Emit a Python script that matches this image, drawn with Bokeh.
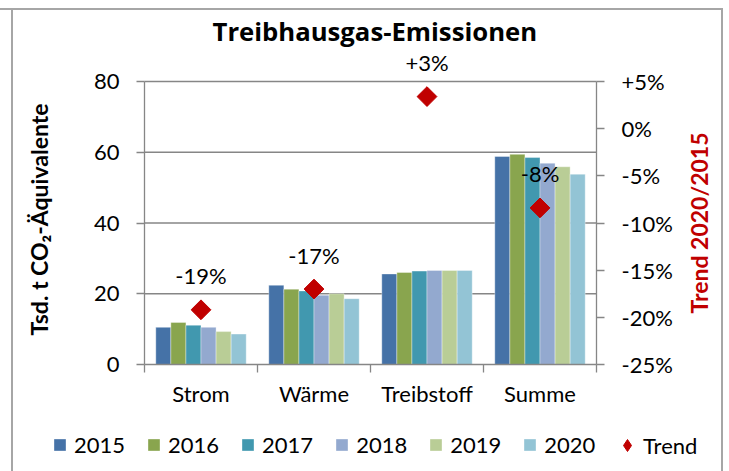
import math
from bokeh.plotting import figure
from bokeh.models import (ColumnDataSource, Range1d, LinearAxis, FixedTicker,
                          CustomJSTickFormatter, LabelSet, Label, Legend, LegendItem)
from bokeh.core.properties import value
from bokeh.transform import dodge
from bokeh.embed import file_html
from bokeh.resources import INLINE

# ---------------- data ----------------
categories = ["Strom", "Wärme", "Treibstoff", "Summe"]
years = ["2015", "2016", "2017", "2018", "2019", "2020"]
v2015 = [10.5, 22.4, 25.6, 58.8]
v2016 = [11.9, 21.3, 26.0, 59.4]
v2017 = [11.1, 20.8, 26.4, 58.5]
v2018 = [10.5, 19.6, 26.6, 56.9]
v2019 = [9.3, 20.0, 26.6, 55.9]
v2020 = [8.6, 18.6, 26.6, 53.8]
trend = [-19.2, -17.0, 3.4, -8.4]          # % change 2020 vs 2015
y_ticks = [0, 20, 40, 60, 80]
trend_ticks = [-25, -20, -15, -10, -5, 0, 5]

series = [v2015, v2016, v2017, v2018, v2019, v2020]
colors = ["#4572A7", "#89A54E", "#4198AF", "#93A9CF", "#B9CD96", "#93C4D5"]
RED = "#C00000"
GRID = "#868686"
FONT = "Lato"

# ---------------- layout geometry (pixels) ----------------
W, H = 729, 471
TOP = 48                      # space for the title
PL, PR = 144, 596             # plot area left / right
PT, PB = 81, 364              # plot area top (80) / bottom (0)
NC = len(categories)
Y0, Y1 = y_ticks[0], y_ticks[-1]
T0, T1 = trend_ticks[0], trend_ticks[-1]

xs_per_px = NC / (PR - PL)
ys_per_px = (Y1 - Y0) / (PB - PT)
def px_x(px):
    return (px - PL) * xs_per_px
def px_y(py):
    return Y0 + (PB - py) * ys_per_px
def y_to_t(y):
    return T0 + (y - Y0) * (T1 - T0) / (Y1 - Y0)

x_start, x_end = px_x(0), px_x(W)
y_start, y_end = px_y(H), px_y(TOP)

p = figure(width=W, height=H, output_backend="svg", toolbar_location=None,
           x_range=Range1d(x_start, x_end), y_range=Range1d(y_start, y_end),
           min_border_left=0, min_border_right=0,
           min_border_top=TOP, min_border_bottom=0,
           title="Treibhausgas-Emissionen")
p.extra_y_ranges = {"trend": Range1d(y_to_t(y_start), y_to_t(y_end))}
p.outline_line_color = None
p.background_fill_alpha = 0
p.border_fill_alpha = 0
p.styles = {
    "background-image": ("linear-gradient(#a6a6a6,#a6a6a6), linear-gradient(#a6a6a6,#a6a6a6), "
                         "linear-gradient(#a6a6a6,#a6a6a6)"),
    "background-size": "723px 2px, 2px 480px, 2px 480px",
    "background-position": "0px 8px, 11px 8px, 721px 8px",
    "background-repeat": "no-repeat",
}

p.title.align = "left"
p.title.offset = 212
p.title.text_font = "Open Sans"
p.title.text_font_style = "bold"
p.title.text_font_size = "25.7px"
p.title.text_color = "black"
p.title.standoff = 0

p.xgrid.visible = False
p.ygrid.visible = False

# horizontal grid lines, only across the plot area
p.segment(x0=0, x1=NC, y0=y_ticks[1:], y1=y_ticks[1:], line_color=GRID, line_width=1.3)

# x axis: labels at centres, ticks at category boundaries
xc = [i + 0.5 for i in range(NC)]
xa = p.xaxis[0]
xa.fixed_location = Y0
xa.bounds = (0, NC)
xa.ticker = FixedTicker(ticks=xc, minor_ticks=list(range(NC + 1)))
xa.major_label_overrides = {c: lab for c, lab in zip(xc, categories)}
xa.major_tick_line_color = None
xa.major_tick_out = 8
xa.major_tick_in = 0
xa.minor_tick_out = 8
xa.minor_tick_in = 0
xa.minor_tick_line_color = GRID
xa.minor_tick_line_width = 1.3
xa.axis_line_color = GRID
xa.axis_line_width = 1.3
xa.major_label_standoff = 7
xa.major_label_text_font = FONT
xa.major_label_text_font_size = "22px"
xa.major_label_text_color = "black"

ya = p.yaxis[0]
ya.fixed_location = 0
ya.bounds = (Y0, Y1)
ya.ticker = FixedTicker(ticks=y_ticks)
ya.major_tick_out = 8
ya.major_tick_in = 0
ya.major_tick_line_color = GRID
ya.major_tick_line_width = 1.3
ya.axis_line_color = GRID
ya.axis_line_width = 1.3
ya.major_label_standoff = 17
ya.major_label_text_font = FONT
ya.major_label_text_font_size = "22px"
ya.major_label_text_color = "black"

ra = LinearAxis(y_range_name="trend", ticker=FixedTicker(ticks=trend_ticks),
                formatter=CustomJSTickFormatter(code="return (tick > 0 ? '+' : '') + tick + '%';"))
ra.fixed_location = NC
ra.bounds = (T0, T1)
ra.major_tick_out = 8
ra.major_tick_in = 0
ra.major_tick_line_color = GRID
ra.major_tick_line_width = 1.3
ra.axis_line_color = GRID
ra.axis_line_width = 1.3
ra.major_label_standoff = 17
ra.major_label_text_font = FONT
ra.major_label_text_font_size = "22px"
ra.major_label_text_color = "black"
p.add_layout(ra, "right")

# bars
n = len(years)
bw = 0.8 / n
items = []
for j, (yr, vals, col) in enumerate(zip(years, series, colors)):
    src = ColumnDataSource(dict(x=xc, top=vals))
    r = p.vbar(x=dodge("x", (j - (n - 1) / 2) * bw), top="top", bottom=0, width=bw,
               source=src, fill_color=col, line_color="white", line_width=0.6,
               line_alpha=0.6)
    items.append(LegendItem(label=value(yr), renderers=[r]))

# trend markers + labels
tsrc = ColumnDataSource(dict(x=xc, y=trend, label=[f"{t:+.0f}%" for t in trend]))
# diamond marker (lies completely under the rotated square; used for the legend key)
tr_key = p.scatter(x="x", y="y", source=tsrc, y_range_name="trend", marker="diamond",
                   size=18, fill_color=RED, line_color=RED)
tr = p.scatter(x="x", y="y", source=tsrc, y_range_name="trend", marker="square",
               size=14, angle=math.pi / 4, fill_color=RED, line_color=RED)
labels = LabelSet(x="x", y="y", text="label", source=tsrc, y_range_name="trend",
                  y_offset=34, text_align="center", text_baseline="middle",
                  text_font=value(FONT), text_font_size="22px", text_color="black")
p.add_layout(labels)

legend_style = dict(orientation="horizontal", padding=0, margin=0,
                    border_line_color=None, background_fill_alpha=0,
                    label_text_font=FONT, label_text_font_size="22px",
                    label_text_color="black")
legend = Legend(items=items, location=(52, 13), glyph_width=15, glyph_height=15,
                label_standoff=7, spacing=21, **legend_style)
p.add_layout(legend)
legend_t = Legend(items=[LegendItem(label=value("Trend"), renderers=[tr_key])],
                  location=(612, 11), glyph_width=30, glyph_height=30,
                  label_standoff=1, **legend_style)
p.add_layout(legend_t)

# axis titles (both read bottom-to-top as in the original)
llab = Label(x=px_x(38), y=px_y(219), text="Tsd. t CO₂-Äquivalente",
             angle=math.pi / 2, text_align="center", text_baseline="middle",
             text_font=FONT, text_font_style="bold", text_font_size="23px",
             text_color="black")
rlab = Label(x=px_x(698), y=(Y0 + Y1) / 2, text="Trend 2020/2015",
             angle=math.pi / 2, text_align="center", text_baseline="middle",
             text_font=FONT, text_font_style="bold", text_font_size="23px",
             text_color=RED)
p.add_layout(llab)
p.add_layout(rlab)

open("out.html", "w").write(file_html(p, INLINE))
